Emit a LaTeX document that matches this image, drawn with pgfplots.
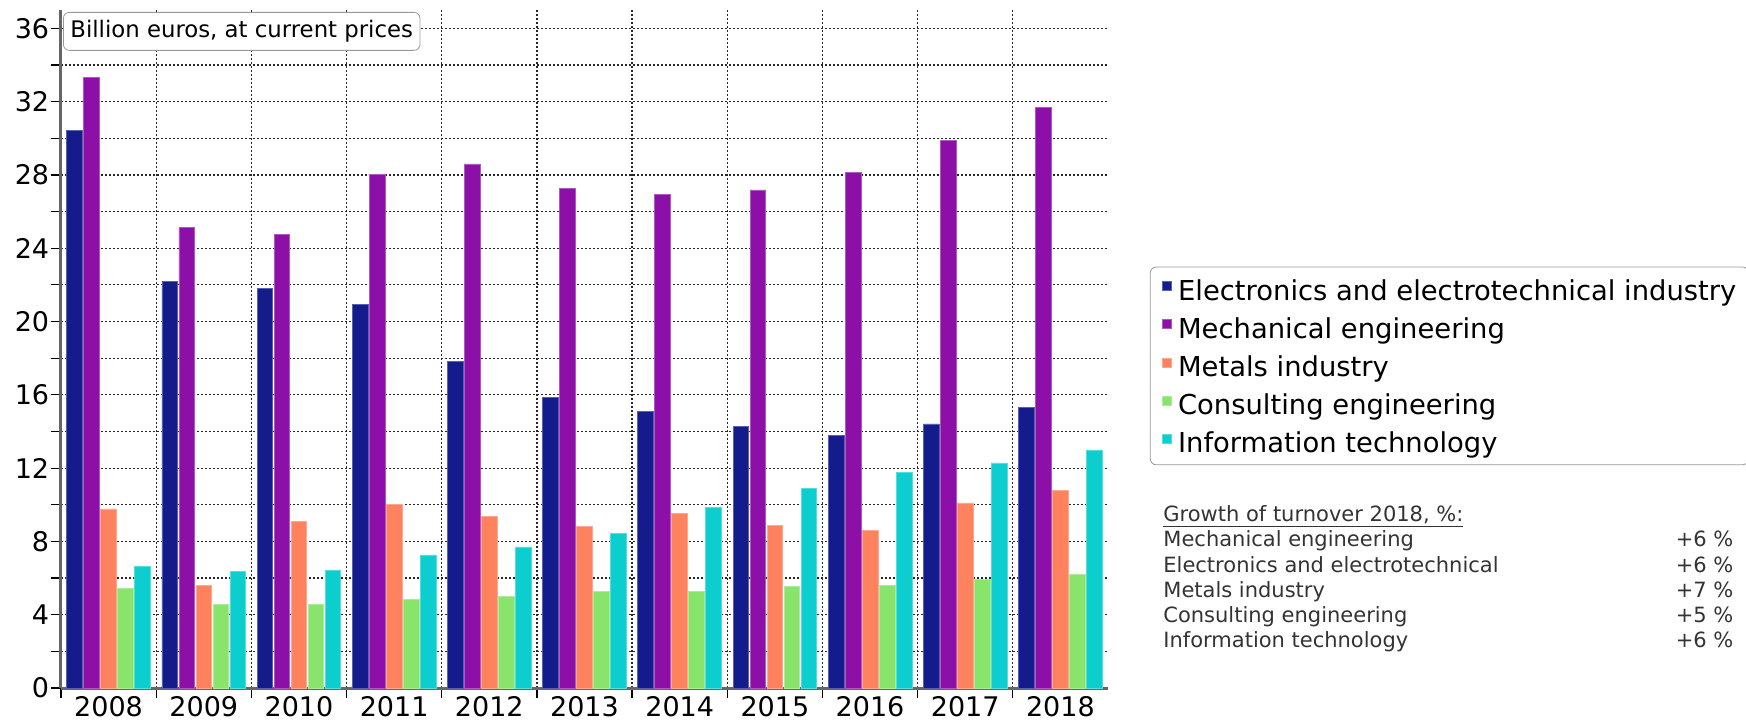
\documentclass[border=0pt]{standalone}
\usepackage{fontspec}
\setmainfont{DejaVu Sans}
\usepackage{pgfplots}
\pgfplotsset{compat=1.18}
\definecolor{cE}{HTML}{141C8C}
\definecolor{cM}{HTML}{8C10A8}
\definecolor{cMet}{HTML}{FF825F}
\definecolor{cC}{HTML}{88E46A}
\definecolor{cIT}{HTML}{0CCECE}
\definecolor{axgray}{HTML}{666666}
\begin{document}
\begin{tikzpicture}
\useasboundingbox (0,0) rectangle (873bp,361bp);
\begin{axis}[
  at={(30.5bp,17bp)}, anchor=south west,
  scale only axis, width=523.5bp, height=339bp,
  xmin=-0.5, xmax=10.5, ymin=0, ymax=37,
  ybar=0.65bp, bar width=7.85bp,
  axis x line*=bottom, axis y line*=left,
  axis line style={draw=axgray, line width=1.5bp},
  xtick={0,...,10},
  xticklabels={2008,2009,2010,2011,2012,2013,2014,2015,2016,2017,2018},
  minor xtick={-0.5,0.5,1.5,2.5,3.5,4.5,5.5,6.5,7.5,8.5,9.5},
  ytick={0,4,...,36}, minor ytick={2,6,...,34},
  ymajorgrids, yminorgrids, xminorgrids,
  major grid style={black!85, line width=0.6bp, dash pattern=on 1bp off 1bp},
  minor grid style={black!85, line width=0.6bp, dash pattern=on 1bp off 1bp},
  tick align=outside,
  major tick length=5bp, minor tick length=5bp,
  every tick/.style={black, line width=0.6bp},
  major x tick style={draw=none},
  /pgf/number format/assume math mode=true,
  ticklabel style={font=\fontsize{13.5bp}{16bp}\selectfont},
  xticklabel style={yshift=4.2bp},
  yticklabel style={xshift=2.6bp},
  legend style={at={(1.04,0.6215)}, anchor=north west, draw=gray!80, rounded corners=3bp,
    font=\fontsize{13.7bp}{16.4bp}\selectfont, row sep=5.6bp, inner xsep=6bp, inner ysep=4.5bp,
    column sep=3bp,
    nodes={inner sep=0pt, text height=12bp, text depth=1.5bp}},
  legend cell align=left,
  legend image code/.code={\fill[#1, sharp corners] (0bp,-0.5bp) rectangle (4.5bp,4bp);},
]
\addplot[fill=cE, draw=cE!70!white, line width=0.4bp] coordinates {(0,30.44) (1,22.2) (2,21.78) (3,20.94) (4,17.82) (5,15.88) (6,15.1) (7,14.27) (8,13.77) (9,14.41) (10,15.29)};
\addplot[fill=cM, draw=cM!70!white, line width=0.4bp] coordinates {(0,33.3) (1,25.15) (2,24.75) (3,28.03) (4,28.6) (5,27.26) (6,26.92) (7,27.18) (8,28.14) (9,29.87) (10,31.69)};
\addplot[fill=cMet, draw=cMet!70!white, line width=0.4bp] coordinates {(0,9.77) (1,5.59) (2,9.08) (3,10.0) (4,9.37) (5,8.84) (6,9.52) (7,8.89) (8,8.6) (9,10.1) (10,10.79)};
\addplot[fill=cC, draw=cC!70!white, line width=0.4bp] coordinates {(0,5.44) (1,4.58) (2,4.56) (3,4.85) (4,4.98) (5,5.25) (6,5.27) (7,5.52) (8,5.61) (9,5.94) (10,6.21)};
\addplot[fill=cIT, draw=cIT!70!white, line width=0.4bp] coordinates {(0,6.65) (1,6.36) (2,6.44) (3,7.26) (4,7.70) (5,8.41) (6,9.83) (7,10.88) (8,11.76) (9,12.28) (10,12.99)};
\legend{Electronics and electrotechnical industry, Mechanical engineering, Metals industry, Consulting engineering, Information technology}
\end{axis}
\node[draw=gray!80, rounded corners=3bp, fill=white, anchor=north west, inner xsep=3.5bp, inner ysep=4bp,
  font=\fontsize{11.4bp}{13bp}\selectfont, text height=8.5bp, text depth=2.5bp] at (31.5bp,355bp)
  {Billion euros, at current prices};
\node[anchor=north west, inner sep=0pt, text=black!80] at (581.5bp,109.2bp) {%
  \fontsize{10.5bp}{12.6bp}\selectfont
  \begin{tabular*}{285bp}{@{}l@{\extracolsep{\fill}}r@{}}
  \underline{Growth of turnover 2018, \%:} & \\
  Mechanical engineering & +6 \% \\
  Electronics and electrotechnical & +6 \% \\
  Metals industry & +7 \% \\
  Consulting engineering & +5 \% \\
  Information technology & +6 \% \\
  \end{tabular*}};
\end{tikzpicture}
\end{document}
